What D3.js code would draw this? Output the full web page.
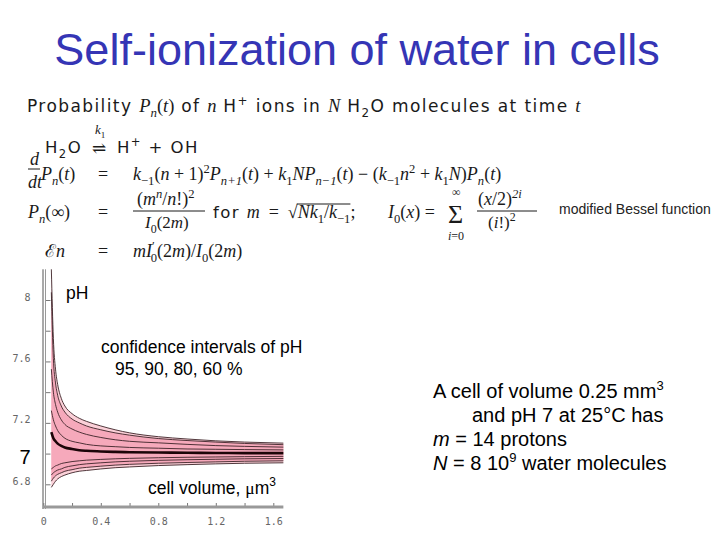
<!DOCTYPE html>
<meta charset="utf-8">
<script src="https://cdn.jsdelivr.net/npm/d3@7"></script>
<style>
  body { margin: 0; background: #fff; }
</style>
<div id="slide"></div>
<script>

// cell volume (um^3) where the curves were read
var volume = [0.056, 0.07, 0.085, 0.1, 0.125, 0.15, 0.2, 0.25, 0.3, 0.4, 0.5, 0.6, 0.8, 1.0, 1.2, 1.4, 1.67];

// pH confidence bounds (95, 90, 80, 60 %)
var up95 = [8.20, 7.75, 7.55, 7.45, 7.36, 7.31, 7.26, 7.23, 7.21, 7.18, 7.155, 7.135, 7.11, 7.095, 7.083, 7.075, 7.068];
var up90 = [8.05, 7.62, 7.46, 7.38, 7.31, 7.27, 7.225, 7.20, 7.18, 7.155, 7.135, 7.12, 7.098, 7.085, 7.075, 7.066, 7.058];
var up80 = [7.55, 7.40, 7.32, 7.27, 7.22, 7.19, 7.16, 7.14, 7.125, 7.105, 7.09, 7.08, 7.07, 7.06, 7.052, 7.047, 7.042];
var up60 = [7.28, 7.22, 7.18, 7.15, 7.12, 7.10, 7.08, 7.07, 7.06, 7.05, 7.045, 7.04, 7.035, 7.03, 7.028, 7.026, 7.024];
var center = [7.14, 7.10, 7.08, 7.065, 7.05, 7.04, 7.03, 7.022, 7.018, 7.014, 7.011, 7.009, 7.007, 7.005, 7.004, 7.003, 7.003];
var lo60 = [6.90, 6.91, 6.92, 6.925, 6.935, 6.94, 6.948, 6.953, 6.957, 6.962, 6.966, 6.969, 6.973, 6.976, 6.978, 6.98, 6.982];
var lo80 = [6.86, 6.875, 6.885, 6.893, 6.90, 6.91, 6.92, 6.928, 6.933, 6.94, 6.946, 6.95, 6.956, 6.96, 6.963, 6.966, 6.968];
var lo90 = [6.82, 6.84, 6.855, 6.865, 6.875, 6.885, 6.895, 6.905, 6.91, 6.918, 6.925, 6.93, 6.937, 6.942, 6.946, 6.95, 6.953];
var lo95 = [6.78, 6.80, 6.82, 6.835, 6.85, 6.86, 6.875, 6.885, 6.89, 6.90, 6.908, 6.913, 6.922, 6.928, 6.933, 6.937, 6.94];

// tick values and their labels
var xTicks = [0, 0.2, 0.4, 0.6, 0.8, 1.0, 1.2, 1.4, 1.6];
var xTickLabels = ["0", "", "0.4", "", "0.8", "", "1.2", "", "1.6"];
var yTicks = [6.8, 7.0, 7.2, 7.4, 7.6, 7.8, 8.0];
var yTickLabels = ["6.8", "7", "7.2", "", "7.6", "", "8"];

var sans = "'Liberation Sans', Arial, sans-serif";
var texSans = "'DejaVu Sans', sans-serif";
var texMath = "'Liberation Serif', 'DejaVu Serif', serif";

var svg = d3.select("#slide")
  .append("svg")
    .attr("width", 720)
    .attr("height", 540)

svg.append("rect").attr("width", 720).attr("height", 540).attr("fill", "#fff")

// title
svg.append("text")
    .attr("x", 357)
    .attr("y", 65)
    .attr("text-anchor", "middle")
    .style("font-family", sans)
    .style("font-size", "45px")
    .attr("fill", "#3535b5")
    .text("Self-ionization of water in cells")

// ---- equations ----
// parts: [text, kind, dx] ; kind: r = sans roman, m = math roman, i = math italic, +sub/sup
function eq(x, y, parts, size) {
  size = size || 18
  var t = svg.append("text")
      .attr("x", x)
      .attr("y", y)
      .attr("fill", "#1a1a1a")
      .style("font-size", size + "px")
  var shift = 0
  parts.forEach(function(p) {
    var s = p[0], kind = p[1]
    var target = 0, fs = size
    if (kind.indexOf("sub") >= 0) { target = size * 0.28; fs = size * 0.7 }
    if (kind.indexOf("sup") >= 0) { target = -size * 0.4; fs = size * 0.7 }
    var ts = t.append("tspan")
        .attr("dy", target - shift)
        .style("font-size", fs + "px")
        .style("font-family", kind.charAt(0) == "r" ? texSans : texMath)
        .style("font-style", kind.charAt(0) == "i" ? "italic" : "normal")
        .text(s)
    if (kind.charAt(0) == "r") ts.style("font-size", (fs * 0.92) + "px").style("letter-spacing", "1.4px")
    if (p[2]) ts.attr("dx", p[2])
    shift = target
  })
  return t
}

function bar(x1, x2, y) {
  svg.append("line")
      .attr("x1", x1).attr("x2", x2)
      .attr("y1", y).attr("y2", y)
      .attr("stroke", "#1a1a1a")
      .attr("stroke-width", 1)
}

eq(27, 112, [["Probability ", "r"], ["P", "i"], ["n", "isub"], ["(", "m"], ["t", "i"], [")", "m"],
  ["  of ", "r"], ["n", "i"], [" H", "r"], ["+", "rsup"], [" ions in ", "r"], ["N", "i"], ["  H", "r"],
  ["2", "rsub"], ["O molecules at time ", "r"], ["t", "i"]], 18.5)

eq(45, 153, [["H", "r"], ["2", "rsub"], ["O", "r"]])
eq(92, 154, [["\u21CC", "m"]], 17)
eq(95, 134, [["k", "i"], ["1", "msub"]], 13)
eq(117, 153, [["H", "r"], ["+", "rsup"], [" + OH", "r"]])

eq(30, 165, [["d", "i"]])
bar(28, 40, 169)
eq(28, 188, [["dt", "i"]])
eq(41, 180, [["P", "i"], ["n", "isub"], ["(", "m"], ["t", "i"], [")", "m"]])
eq(98, 180, [["=", "m"]])
eq(133, 180, [["k", "i"], ["\u22121", "msub"], ["(", "m"], ["n", "i"], [" + 1)", "m"], ["2", "msup"],
  ["P", "i"], ["n+1", "isub"], ["(", "m"], ["t", "i"], [") + ", "m"], ["k", "i"], ["1", "msub"],
  ["NP", "i"], ["n\u22121", "isub"], ["(", "m"], ["t", "i"], [") \u2212 (", "m"], ["k", "i"], ["\u22121", "msub"],
  ["n", "i"], ["2", "msup"], [" + ", "m"], ["k", "i"], ["1", "msub"], ["N", "i"], [")", "m"],
  ["P", "i"], ["n", "isub"], ["(", "m"], ["t", "i"], [")", "m"]])

eq(28, 218, [["P", "i"], ["n", "isub"], ["(\u221E)", "m"]])
eq(98, 218, [["=", "m"]])
eq(137, 205, [["(", "m"], ["m", "i"], ["n", "isup"], ["/", "m"], ["n", "i"], ["!)", "m"], ["2", "msup"]])
bar(133, 205, 211)
eq(145, 228, [["I", "i"], ["0", "msub"], ["(2", "m"], ["m", "i"], [")", "m"]], 17)
var root = eq(213, 218, [["for   ", "r"], ["m", "i"], ["\u2002=\u2002", "m"], ["\u221A", "m"], ["Nk", "i"], ["1", "msub"],
  ["/", "m"], ["k", "i"], ["\u22121", "msub"], [";", "m"]])
// overline of the square root
var rootParts = root.selectAll("tspan").nodes()
var rb = rootParts[3].getBBox(), re = rootParts[9].getBBox()
bar(rb.x + rb.width - 1, re.x, rb.y + 2)

eq(388, 218, [["I", "i"], ["0", "msub"], ["(", "m"], ["x", "i"], [") =", "m"]])
eq(448, 223, [["\u03A3", "m"]], 26)
eq(452, 196, [["\u221E", "m"]], 12)
eq(448, 240, [["i", "i"], ["=0", "m"]], 12)
eq(478, 205, [["(", "m"], ["x", "i"], ["/2)", "m"], ["2i", "isup"]])
bar(477, 537, 211)
eq(488, 228, [["(", "m"], ["i", "i"], ["!)", "m"], ["2", "msup"]], 17)

svg.append("text")
    .attr("x", 559)
    .attr("y", 214)
    .style("font-family", sans)
    .style("font-size", "14px")
    .attr("fill", "#222")
    .text("modified Bessel function")

eq(45, 257, [["\u2130", "m"], ["n", "i"]])
eq(98, 257, [["=", "m"]])
eq(133, 257, [["mI", "i"], ["\u2032", "msup"], ["0", "msub", -4], ["(2", "m"], ["m", "i"], [")/", "m"],
  ["I", "i"], ["0", "msub"], ["(2", "m"], ["m", "i"], [")", "m"]])

// ---- chart ----
var x = d3.scaleLinear()
  .domain([0, 1.6])
  .range([43.3, 273.3])

var y = d3.scaleLinear()
  .domain([6.8, 8])
  .range([484.3, 300])

var chart = svg.append("g")

// Y axis (ticks point inside)
chart.append("g")
    .attr("transform", "translate(45.5,0)")
    .call(d3.axisLeft(y)
      .tickValues(yTicks)
      .tickSizeInner(-5)
      .tickSizeOuter(0)
      .tickPadding(15)
      .tickFormat(function(d, i) { return yTickLabels[i] }))
    .call(function(g) {
      g.select(".domain").remove()
      g.selectAll(".tick line").attr("stroke", "#777")
      g.selectAll(".tick text")
        .attr("fill", "#666")
        .attr("dy", "0")
        .style("font-family", "'DejaVu Sans Mono', monospace")
        .style("font-size", "10px")
      g.selectAll(".tick text").filter(function(d) { return d == 7 })
        .attr("fill", "#000")
        .attr("dy", "0.5em")
        .style("font-family", sans)
        .style("font-size", "20px")
    })

// double left axis line
chart.append("line")
    .attr("x1", 43).attr("x2", 43)
    .attr("y1", y(8.2)).attr("y2", 509)
    .attr("stroke", "#555")
chart.append("line")
    .attr("x1", 45.5).attr("x2", 45.5)
    .attr("y1", y(8.2)).attr("y2", 509)
    .attr("stroke", "#999")

// X axis (ticks point up)
chart.append("g")
    .attr("transform", "translate(0,507)")
    .call(d3.axisBottom(x)
      .tickValues(xTicks)
      .tickSizeInner(-4)
      .tickSizeOuter(0)
      .tickPadding(11)
      .tickFormat(function(d, i) { return xTickLabels[i] }))
    .call(function(g) {
      g.select(".domain").remove()
      g.selectAll(".tick line").attr("stroke", "#777")
      g.selectAll(".tick text")
        .attr("fill", "#666")
        .style("font-family", "'DejaVu Sans Mono', monospace")
        .style("font-size", "10px")
    })

chart.append("line")
    .attr("x1", 43).attr("x2", x(1.67))
    .attr("y1", 507).attr("y2", 507)
    .attr("stroke", "#999")
    .attr("stroke-width", 3)

var rows = volume.map(function(v, i) {
  return { v: v, up95: up95[i], up90: up90[i], up80: up80[i], up60: up60[i], c: center[i],
           lo60: lo60[i], lo80: lo80[i], lo90: lo90[i], lo95: lo95[i] }
})

function band(hi, lo) {
  return d3.area()
    .curve(d3.curveMonotoneX)
    .x(function(d) { return x(d.v) })
    .y0(function(d) { return y(d[lo]) })
    .y1(function(d) { return y(d[hi]) })
}
function curve(key) {
  return d3.line()
    .curve(d3.curveMonotoneX)
    .x(function(d) { return x(d.v) })
    .y(function(d) { return y(d[key]) })
}

chart.append("path").datum(rows).attr("d", band("up95", "lo95")).attr("fill", "#fbd0d8")
chart.append("path").datum(rows).attr("d", band("up90", "lo90")).attr("fill", "#f6a9bb")

var bounds = ["up95", "up90", "up80", "up60", "lo60", "lo80", "lo90", "lo95"]
chart.selectAll(".bound")
  .data(bounds)
  .enter()
  .append("path")
    .attr("class", "bound")
    .attr("d", function(k) { return curve(k)(rows) })
    .attr("fill", "none")
    .attr("stroke", "#3d2428")
    .attr("stroke-width", 0.9)

chart.append("path")
    .datum(rows)
    .attr("d", curve("c"))
    .attr("fill", "none")
    .attr("stroke", "#1c0508")
    .attr("stroke-width", 2.6)

// chart annotations
function label(x0, y0, txt, size) {
  return svg.append("text")
      .attr("x", x0)
      .attr("y", y0)
      .style("font-family", sans)
      .style("font-size", (size || 17.5) + "px")
      .attr("fill", "#000")
      .text(txt)
}
label(66, 299, "pH")
label(101, 353, "confidence intervals of pH")
label(115, 375, "95, 90, 80, 60 %")
var cv = label(148, 494, "cell volume, ")
cv.append("tspan").style("font-family", texMath).text("\u03BC")
cv.append("tspan").text("m")
cv.append("tspan").attr("dy", -8).style("font-size", "12px").text("3")

// side note
var n1 = label(433, 398, "A cell of volume 0.25 mm", 20)
n1.append("tspan").attr("dy", -8).style("font-size", "13px").text("3")
label(472, 422, "and pH 7 at 25\u00B0C has", 20)
var n3 = label(433, 446, "", 20)
n3.append("tspan").style("font-style", "italic").text("m")
n3.append("tspan").text(" = 14 protons")
var n4 = label(433, 470, "", 20)
n4.append("tspan").style("font-style", "italic").text("N")
n4.append("tspan").text(" = 8 10")
n4.append("tspan").attr("dy", -8).style("font-size", "13px").text("9")
n4.append("tspan").attr("dy", 8).text(" water molecules")

</script>
